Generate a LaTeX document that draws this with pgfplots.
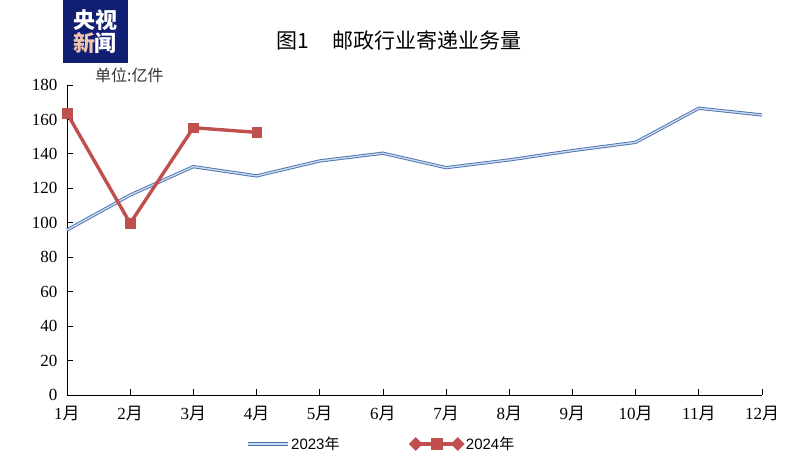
\documentclass[border=0pt]{standalone}
\usepackage{fontspec}
\setmainfont{Liberation Serif}
\newfontfamily\cjk{Noto Sans CJK SC}
\newfontfamily\sans{Liberation Sans}
\usepackage{pgfplots}
\usepackage{pgfplotstable}
\pgfplotsset{compat=1.18}

\definecolor{redline}{HTML}{C0504D}
\definecolor{blueout}{HTML}{4A72AC}
\definecolor{bluein}{HTML}{C9DAF0}
\definecolor{logonavy}{HTML}{101F72}
\definecolor{logopeach}{HTML}{F2C4AE}

% 2023 and 2024 monthly volume, 100 million items
\pgfplotstableread{
m y2023
1 95.8
2 116.1
3 132.6
4 127.2
5 135.9
6 140.4
7 132.0
8 136.5
9 141.9
10 146.7
11 166.5
12 162.6
}\tabA
\pgfplotstableread{
m y2024
1 163.6
2 99.7
3 155.2
4 152.5
}\tabB

\newcommand{\yue}{{\cjk 月}}

\pgfplotsset{
  blueleg/.style={legend image code/.code={
    \draw[draw=blueout, line width=0.9pt, double=bluein, double distance=1.4pt] (0pt,0pt) -- (40pt,0pt);}},
  redleg/.style={legend image code/.code={
    \draw[redline, line width=3.4pt] (0pt,0pt) -- (42pt,0pt);
    \fill[redline] (0pt,4.5pt) -- (4.5pt,0pt) -- (0pt,-4.5pt) -- (-4.5pt,0pt) -- cycle;
    \fill[redline] (42pt,4.5pt) -- (46.5pt,0pt) -- (42pt,-4.5pt) -- (37.5pt,0pt) -- cycle;
    \fill[redline] (16.5pt,-4.5pt) rectangle (25.5pt,4.5pt);}},
}

\begin{document}
\begin{tikzpicture}
\path[use as bounding box] (-67pt,-60pt) rectangle (739pt,395pt);

% logo
\fill[logonavy] (-4pt,332pt) rectangle (61pt,395pt);
\node[text=white, font=\cjk\bfseries\fontsize{22}{22}\selectfont, inner sep=0pt] at (28pt,375pt) {央视};
\node[font=\cjk\bfseries\fontsize{22}{22}\selectfont, inner sep=0pt] at (28pt,352pt) {\textcolor{logopeach}{新}\textcolor{white}{闻}};

% title and unit
\node[font=\cjk\fontsize{21}{21}\selectfont, inner sep=0pt] at (332pt,355pt) {图1\hspace{1.1em}邮政行业寄递业务量};
\node[font=\cjk\fontsize{16}{16}\selectfont, text=black!80, anchor=west, inner sep=0pt] at (28pt,320pt) {单位:亿件};

\begin{axis}[
  scale only axis,
  width=695pt, height=310pt,
  xmin=1, xmax=12, ymin=0, ymax=180,
  axis lines*=left,
  axis line style={black, line width=0.8pt},
  tick align=inside,
  major tick length=6pt,
  tick style={black, line width=0.8pt},
  xtick={1,...,12},
  xticklabels={1\yue,2\yue,3\yue,4\yue,5\yue,6\yue,7\yue,8\yue,9\yue,10\yue,11\yue,12\yue},
  ytick={0,20,...,180},
  /pgf/number format/assume math mode=true,
  tick label style={font=\fontsize{17}{17}\selectfont},
  x tick label style={yshift=-8pt},
  y tick label style={xshift=-6pt},
  clip=false,
  legend columns=2,
  legend style={at={(0.452,-0.158)}, anchor=center, draw=none, fill=none,
    font=\sans\fontsize{15}{15}\selectfont,
    /tikz/every even column/.append style={column sep=68pt}},
]
\addplot[draw=blueout, line width=0.9pt, double=bluein, double distance=1.4pt, no markers, blueleg]
  table[x=m, y=y2023] {\tabA};
\addlegendentry{2023{\cjk 年}}

\addplot[redline, line width=3.4pt, mark=square*, mark size=4.8pt, mark options={line width=0.3pt}, redleg]
  table[x=m, y=y2024] {\tabB};
\addlegendentry{2024{\cjk 年}}
\end{axis}
\end{tikzpicture}
\end{document}
